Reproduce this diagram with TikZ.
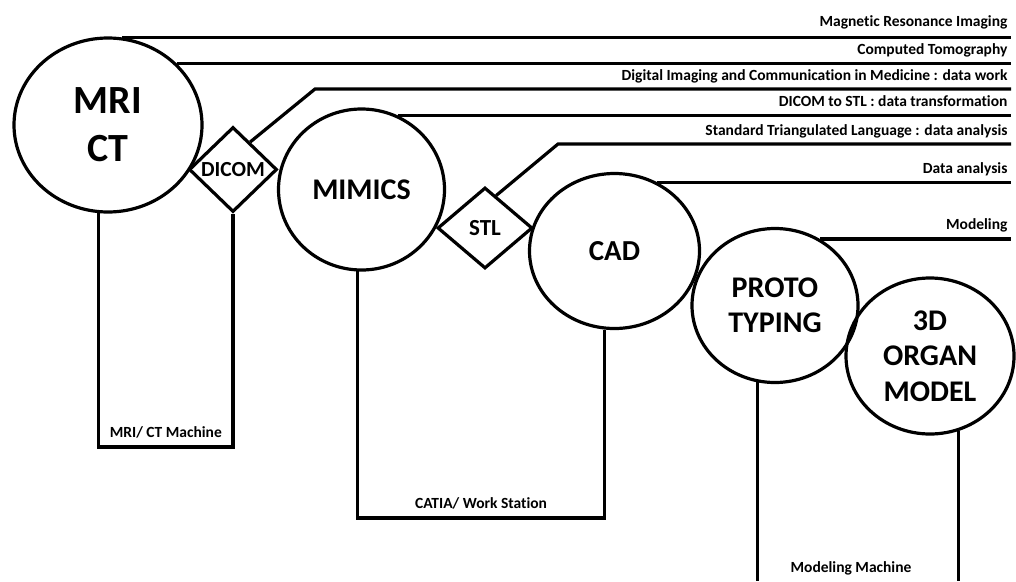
\documentclass[tikz,border=0pt]{standalone}
\usepackage{fontspec}
\setmainfont{Carlito}[Ligatures=NoCommon]
\usepackage{tikz}
\usetikzlibrary{shapes.geometric, calc}

\tikzset{
  stage/.style = {ellipse, draw, line width=3.2pt, inner sep=0pt, align=center},
  format/.style = {diamond, draw, line width=3.2pt, inner sep=0pt},
  wire/.style = {line width=3.2pt},
  tag/.style = {anchor=base east, xshift=-2pt, yshift=9pt, inner sep=0pt, font=\bfseries\fontsize{15.5}{18}\selectfont},
  basetag/.style = {anchor=base, yshift=10pt, inner sep=0pt, font=\bfseries\fontsize{15.5}{18}\selectfont}
}

\begin{document}
\begin{tikzpicture}[x=1pt, y=-1pt]
	\useasboundingbox (0,0) rectangle (1016,581);
	% stages
	\node[stage, minimum width=188pt, minimum height=174pt, font=\bfseries\fontsize{40}{48}\selectfont] (mri) at (108,125) {MRI\\CT};
	\node[format, minimum width=88pt, minimum height=85pt, font=\bfseries\fontsize{21.5}{24}\selectfont] (dicom) at (233,169.5) {DICOM};
	\node[stage, minimum width=166pt, minimum height=161pt, font=\bfseries\fontsize{30}{36}\selectfont] (mimics) at (361.5,189.5) {MIMICS};
	\node[format, minimum width=95pt, minimum height=81pt, font=\bfseries\fontsize{23}{26}\selectfont] (stl) at (485,228) {STL};
	\node[stage, minimum width=170pt, minimum height=155pt, font=\bfseries\fontsize{29}{34}\selectfont] (cad) at (614.5,251) {CAD};
	\node[stage, minimum width=166pt, minimum height=154pt, font=\bfseries\fontsize{30}{35}\selectfont] (proto) at (775,305.5) {PROTO\\TYPING};
	\node[stage, minimum width=168pt, minimum height=156pt, font=\bfseries\fontsize{30}{35.5}\selectfont] (organ) at (930,356) {3D\\ORGAN\\MODEL};
	% helper points
	\coordinate (rim) at (1011,0);
	\coordinate (floor) at (0,581);
	\coordinate (dbend) at (315,89);
	\coordinate (sbend) at (558,144);
	\coordinate (mbase) at (0,447);
	\coordinate (wbase) at (0,518);
	% lines to the right
	\draw[wire] (mri.81) -- (mri.81 -| rim) node[tag, yshift=2pt] (tMRI) {Magnetic Resonance Imaging};
	\draw[wire] (mri.42) -- (mri.42 -| rim) node[tag] (tCT) {Computed Tomography};
	\draw[wire] (dicom.58) -- (dbend) -- (dbend -| rim) node[tag] (tDICOM) {Digital Imaging and Communication in Medicine : data work};
	\draw[wire] (mimics.64) -- (mimics.64 -| rim) node[tag] (tConv) {DICOM to STL : data transformation};
	\draw[wire] (stl.71) -- (sbend) -- (sbend -| rim) node[tag] (tSTL) {Standard Triangulated Language : data analysis};
	\draw[wire] (cad.58) -- (cad.58 -| rim) node[tag] (tCAD) {Data analysis};
	\draw[wire] (proto.56) -- (proto.56 -| rim) node[tag] (tProto) {Modeling};
	% machines below
	\draw[wire] (mri.264) |- node[pos=0.75, basetag] (tScan) {MRI/ CT Machine} (dicom.south |- mbase) -- (dicom.south);
	\draw[wire] (mimics.267) |- node[pos=0.75, basetag] (tCATIA) {CATIA/ Work Station} (cad.263 |- wbase) -- (cad.263);
	\draw[wire] (proto.257) -- (proto.257 |- floor);
	\draw[wire] (organ.291) -- (organ.291 |- floor);
	\node[basetag] (tModel) at (851,582) {Modeling Machine};
\end{tikzpicture}
\end{document}
